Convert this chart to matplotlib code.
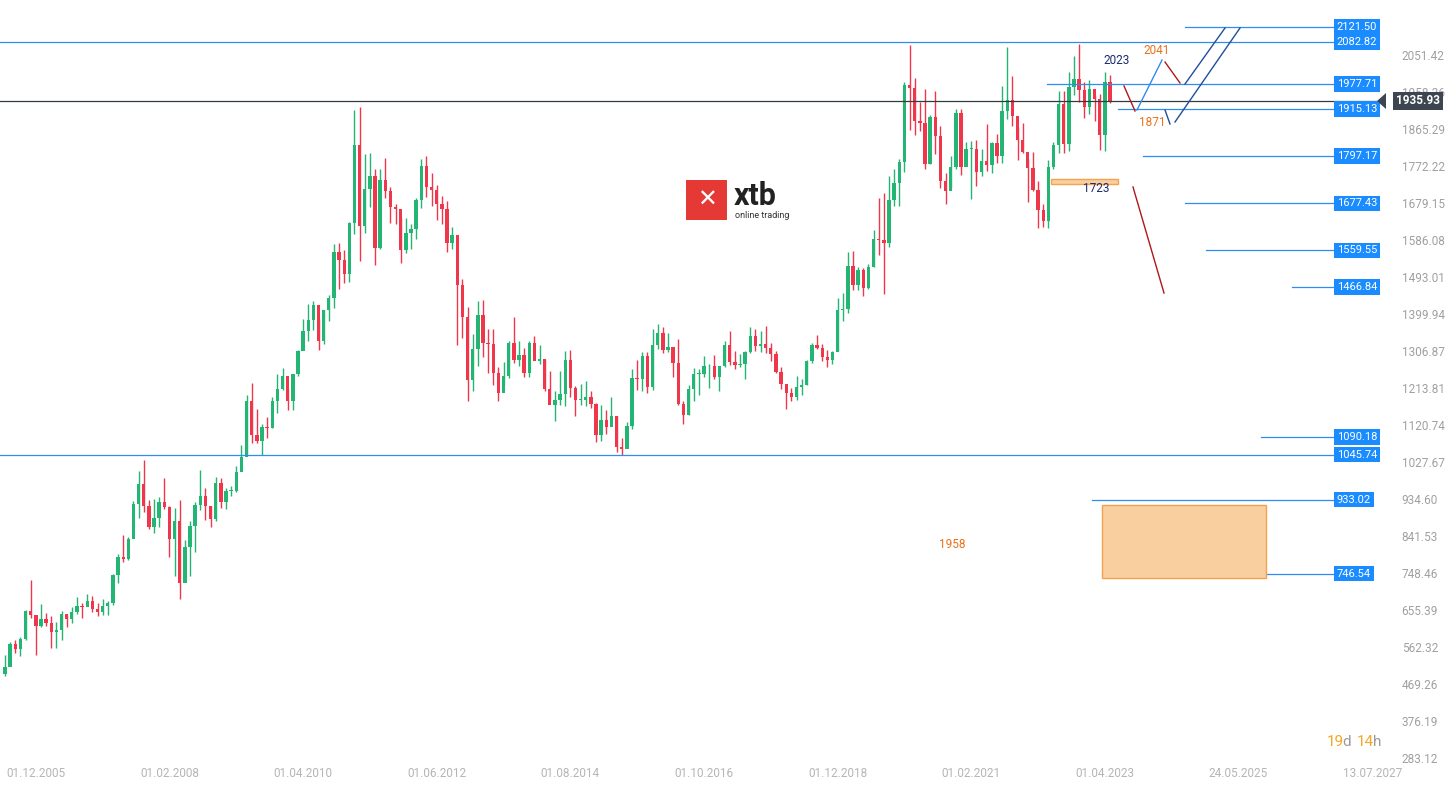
import matplotlib
matplotlib.use("Agg")
import matplotlib.pyplot as plt
from matplotlib.patches import Rectangle, Polygon
from matplotlib.lines import Line2D

plt.rcParams['font.family'] = ['Roboto', 'DejaVu Sans']

first_open = 495
closes = [513,
 569,556,582,654,643,614,633,623,599,604,646,632,
 650,665,662,679,659,650,665,673,743,789,783,834,
 923,972,917,865,886,928,913,833,880,724,814,866,
 919,942,916,883,975,926,954,955,1001,1040,1181,1096,
 1081,1116,1113,1180,1212,1244,1181,1248,1307,1357,1384,1421,
 1332,1409,1439,1556,1536,1500,1628,1825,1620,1714,1746,1565,
 1737,1710,1669,1664,1560,1604,1614,1687,1772,1719,1711,1675,
 1663,1578,1597,1472,1393,1234,1312,1396,1327,1323,1251,1202,
 1244,1326,1284,1296,1250,1327,1282,1287,1210,1171,1183,1199,
 1283,1213,1183,1183,1190,1172,1095,1134,1115,1142,1065,1061,
 1118,1238,1235,1293,1215,1322,1351,1309,1316,1277,1173,1146,
 1211,1249,1249,1268,1268,1242,1269,1321,1280,1271,1275,1303,
 1345,1318,1325,1315,1298,1253,1224,1201,1192,1215,1222,1282,
 1321,1313,1292,1284,1305,1409,1413,1520,1472,1511,1464,1517,
 1589,1585,1577,1686,1730,1781,1975,1967,1886,1879,1776,1895,
 1847,1734,1708,1769,1906,1770,1814,1814,1757,1783,1774,1829,
 1797,1909,1937,1897,1837,1807,1766,1711,1661,1633,1768,1824,
 1928,1827,1969,1990,1963,1919,1965,1940,1849,1983,1936]
highs = [541,
 575,580,588,655,730,637,671,648,641,624,652,643,
 662,689,672,695,690,672,684,677,745,796,843,838,
 930,1005,1032,932,934,939,988,917,912,932,832,880,
 928,1007,962,917,989,986,963,966,1018,1070,1195,1226,
 1161,1123,1140,1190,1249,1264,1211,1249,1308,1388,1424,1431,
 1388,1410,1447,1576,1577,1560,1632,1912,1920,1803,1804,1764,
 1764,1791,1720,1676,1642,1641,1627,1691,1790,1796,1754,1723,
 1695,1684,1617,1592,1488,1418,1348,1433,1434,1361,1361,1267,
 1280,1332,1392,1331,1315,1332,1345,1322,1287,1255,1207,1255,
 1307,1308,1219,1224,1232,1206,1175,1170,1157,1192,1142,1088,
 1128,1262,1283,1303,1303,1362,1375,1366,1352,1312,1337,1180,
 1220,1264,1262,1295,1275,1296,1270,1331,1357,1306,1299,1307,
 1366,1361,1356,1369,1326,1307,1266,1219,1214,1243,1237,1284,
 1326,1346,1324,1310,1306,1439,1453,1555,1557,1518,1516,1524,
 1611,1691,1704,1747,1765,1789,1984,2075,1992,1933,1966,1900,
 1959,1871,1755,1798,1916,1916,1833,1834,1836,1814,1877,1831,
 1853,1974,2070,1998,1870,1880,1790,1807,1735,1676,1786,1833,
 1959,1959,2009,2049,2079,1983,1987,1949,1953,2009,2000]
lows = [489,
 516,548,539,580,636,543,613,615,561,560,580,612,
 622,644,635,666,651,641,643,643,669,723,776,781,
 846,887,902,860,850,863,910,789,740,682,812,741,
 802,906,882,865,880,911,909,941,953,1020,1043,1075,
 1076,1045,1087,1114,1151,1208,1157,1157,1244,1313,1332,1360,
 1308,1324,1383,1415,1463,1477,1480,1601,1532,1603,1668,1522,
 1564,1690,1628,1627,1527,1553,1564,1587,1665,1694,1672,1635,
 1626,1555,1562,1321,1339,1180,1207,1270,1292,1251,1221,1180,
 1221,1238,1277,1268,1240,1240,1284,1273,1207,1183,1131,1170,
 1167,1190,1142,1171,1169,1162,1077,1080,1099,1137,1053,1046,
 1062,1110,1208,1206,1200,1208,1311,1301,1304,1241,1171,1122,
 1146,1180,1195,1240,1214,1236,1205,1267,1271,1260,1265,1236,
 1302,1307,1303,1301,1281,1250,1211,1160,1180,1183,1196,1221,
 1276,1311,1281,1266,1273,1306,1381,1401,1460,1459,1446,1462,
 1517,1547,1451,1567,1670,1671,1757,1863,1849,1860,1764,1776,
 1803,1717,1677,1717,1765,1750,1790,1688,1721,1746,1759,1753,
 1780,1780,1890,1872,1787,1805,1681,1709,1615,1617,1616,1765,
 1804,1805,1810,1950,1932,1893,1903,1885,1811,1810,1931]
opens = [first_open] + closes[:-1]

date_labels = ["01.12.2005","01.02.2008","01.04.2010","01.06.2012","01.08.2014",
               "01.10.2016","01.12.2018","01.02.2021","01.04.2023","24.05.2025","13.07.2027"]
date_idx = [6 + 26*k for k in range(len(date_labels))]
ytick_labels = ["283.12","376.19","469.26","562.32","655.39","748.46","841.53","934.60",
                "1027.67","1120.74","1213.81","1306.87","1399.94","1493.01","1586.08",
                "1679.15","1772.22","1865.29","1958.36","2051.42"]
ytick_vals = [float(s) for s in ytick_labels]

current = 1935.93
levels = [(2121.50,1185),(2082.82,0),(1977.71,1047),(1915.13,1118),(1797.17,1143),
          (1677.43,1185),(1559.55,1206),(1466.84,1292),(1090.18,1261),(1045.74,0),
          (933.02,1092),(746.54,1102)]

W, H = 1450, 787
fig = plt.figure(figsize=(W/100, H/100), dpi=100)
ax = fig.add_axes([0, 1-770/H, 1385/W, 770/H])
ax.set_xlim(-0.97, 268.5)
ax.set_ylim(253.0, 2189.0)
for s in ax.spines.values():
    s.set_visible(False)

green, red = '#22b573', '#f0364a'
for i,(o,c,h,l) in enumerate(zip(opens,closes,highs,lows)):
    col = green if c >= o else red
    ax.vlines(i, l, h, color=col, lw=1, zorder=3)
    ax.add_patch(Rectangle((i-0.33, min(o,c)), 0.66, max(abs(c-o),2), color=col, zorder=3, lw=0))

ax.set_xticks(date_idx)
ax.set_xticklabels(date_labels, color='#b5b5b5', fontsize=8.5)
ax.yaxis.tick_right()
ax.set_yticks(ytick_vals)
ax.set_yticklabels(ytick_labels, color='#a0a0a0', fontsize=8.5)
ax.tick_params(length=0, axis='y', pad=12)
ax.tick_params(length=0, axis='x', pad=-2)

def P(x, y):
    return (x/W, 1-y/H)

def fline(x0,y0,x1,y1,color,lw=1):
    fig.add_artist(Line2D([x0/W,x1/W],[1-y0/H,1-y1/H],color=color,lw=lw,transform=fig.transFigure,zorder=5))

blue = '#2f8cf0'
x_end = 1335
for p, xs in levels:
    ax.plot([(xs-5)/5.14, (x_end-5)/5.14], [p,p], color=blue, lw=0.9, zorder=4)
    ax.text((1337-5)/5.14, p, f"{p:.2f}", color='white', fontsize=8, va='center', ha='left', zorder=6,
            bbox=dict(boxstyle='square,pad=0.25', fc='#1a8cff', ec='none'))
ax.axhline(current, color='#333a40', lw=0.9, zorder=4)
fig.text(1440/W, 1-101/H, f"{current:.2f}", color='white', fontsize=8.5, fontweight='bold',
         ha='right', va='center', bbox=dict(boxstyle='square,pad=0.25', fc='#3d4650', ec='none'), zorder=7)
fig.add_artist(Polygon([P(1377,101),P(1386,93),P(1386,109)], closed=True, fc='#3d4650', ec='none',
                       transform=fig.transFigure, zorder=7))

fig.add_artist(Rectangle(P(1102, 578), (1266-1102)/W, (578-505)/H, fc='#f9cfa0', ec='#f3a24f', lw=1,
                         transform=fig.transFigure, zorder=4))
fig.add_artist(Rectangle(P(1051, 184), (1118-1051)/W, 5/H, fc='#f9cfa0', ec='#f3a24f', lw=1,
                         transform=fig.transFigure, zorder=4))

dred, nav = '#b01818', '#1f4f9a'
fline(1133,187,1164,293,dred)
fline(1124,86,1135,111,dred)
fline(1165,62,1180,83,dred)
fline(1137,110,1162,60,blue)
fline(1185,84,1225,28,nav)
fline(1175,122,1240,28,nav)
fline(1165,110,1170,124,nav)

def ftext(x,y,s,color,size=8.5,**kw):
    fig.text(x/W, 1-y/H, s, color=color, fontsize=size, ha='center', va='center', zorder=8, **kw)
ftext(1117,61,"2023",'#1c2a6e')
ftext(1157,51,"2041",'#e8711a')
ftext(1152,122,"1871",'#e8711a')
ftext(1096,189,"1723",'#1c2a6e')
ftext(952,545,"1958",'#e8711a')

fig.add_artist(Rectangle(P(686,220), 41/W, 40/H, fc='#e53935', ec='none', transform=fig.transFigure, zorder=8))
ftext(706.5,200,"✕",'white',size=17, fontweight='bold')
fig.text(734/W, 1-196/H, "xtb", fontsize=22, fontweight='bold', color='#222', va='center', zorder=8)
fig.text(735/W, 1-215/H, "online trading", fontsize=6.5, color='#333', va='center', zorder=8)

fig.text(1327/W, 1-742/H, "19", color='#f5a623', fontsize=11, va='center')
fig.text(1342/W, 1-742/H, "d", color='#9a9a9a', fontsize=11, va='center')
fig.text(1357/W, 1-742/H, "14", color='#f5a623', fontsize=11, va='center')
fig.text(1373/W, 1-742/H, "h", color='#9a9a9a', fontsize=11, va='center')

fig.savefig("out.png", dpi=100, facecolor='white')
